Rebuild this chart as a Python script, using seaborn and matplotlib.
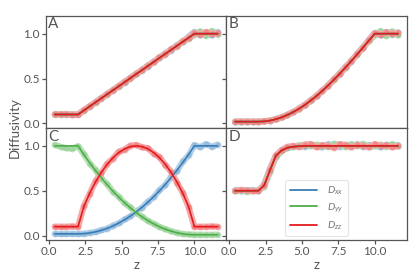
import numpy as np
import pandas as pd
import matplotlib
matplotlib.use("Agg")
import matplotlib.pyplot as plt
from matplotlib.lines import Line2D
import seaborn as sns

# ---------------- data ----------------
z = [0.4, 0.8, 1.2, 1.6, 2.0, 2.4, 2.8, 3.2, 3.6, 4.0, 4.4, 4.8, 5.2, 5.6, 6.0,
     6.4, 6.8, 7.2, 7.6, 8.0, 8.4, 8.8, 9.2, 9.6, 10.0, 10.4, 10.8, 11.2, 11.6]

components = ["D_xx", "D_yy", "D_zz"]
legend_labels = ["$D_{xx}$", "$D_{yy}$", "$D_{zz}$"]
panel_letters = ["A", "B", "C", "D"]
x_ticks = [0.0, 2.5, 5.0, 7.5, 10.0]
y_ticks = [0.0, 0.5, 1.0]

# Panel A (all components identical model)
A_line = [0.1, 0.1, 0.1, 0.1, 0.1, 0.145, 0.19, 0.235, 0.28, 0.325, 0.37, 0.415, 0.46, 0.505, 0.55,
          0.595, 0.64, 0.685, 0.73, 0.775, 0.82, 0.865, 0.91, 0.955, 1.0, 1.0, 1.0, 1.0, 1.0]
A_xx = [0.102, 0.099, 0.101, 0.098, 0.100, 0.147, 0.188, 0.238, 0.277, 0.329, 0.366, 0.419, 0.455, 0.511, 0.546,
        0.601, 0.633, 0.692, 0.724, 0.783, 0.812, 0.874, 0.902, 0.968, 1.02, 0.985, 1.01, 0.98, 1.02]
A_yy = [0.099, 0.101, 0.098, 0.102, 0.101, 0.143, 0.193, 0.232, 0.284, 0.321, 0.375, 0.411, 0.466, 0.499, 0.556,
        0.589, 0.648, 0.679, 0.738, 0.768, 0.829, 0.857, 0.921, 0.944, 0.99, 1.025, 0.975, 1.03, 0.99]
A_zz = [0.101, 0.100, 0.102, 0.099, 0.098, 0.146, 0.191, 0.236, 0.279, 0.327, 0.368, 0.417, 0.462, 0.503, 0.553,
        0.592, 0.644, 0.681, 0.735, 0.771, 0.826, 0.861, 0.915, 0.95, 1.01, 0.99, 1.02, 0.995, 1.005]

# Panel B
B_line = [0.02, 0.02, 0.02, 0.02, 0.02, 0.023, 0.032, 0.047, 0.068, 0.095, 0.127, 0.164, 0.207, 0.255, 0.307,
          0.364, 0.424, 0.488, 0.555, 0.625, 0.697, 0.771, 0.847, 0.923, 1.0, 1.0, 1.0, 1.0, 1.0]
B_xx = [0.021, 0.019, 0.020, 0.021, 0.019, 0.024, 0.031, 0.048, 0.067, 0.097, 0.125, 0.167, 0.204, 0.259, 0.303,
        0.369, 0.419, 0.494, 0.549, 0.632, 0.690, 0.779, 0.839, 0.931, 1.01, 0.98, 1.02, 0.99, 1.015]
B_yy = [0.019, 0.021, 0.020, 0.019, 0.021, 0.022, 0.033, 0.046, 0.069, 0.093, 0.129, 0.161, 0.210, 0.251, 0.312,
        0.359, 0.430, 0.482, 0.561, 0.618, 0.705, 0.763, 0.856, 0.914, 0.985, 1.03, 0.975, 1.025, 0.98]
B_zz = [0.020, 0.020, 0.021, 0.020, 0.019, 0.023, 0.032, 0.047, 0.068, 0.096, 0.126, 0.165, 0.206, 0.256, 0.305,
        0.366, 0.422, 0.490, 0.553, 0.628, 0.694, 0.775, 0.843, 0.927, 1.005, 0.99, 1.015, 1.0, 1.01]

# Panel C
C_xx_line = [0.02, 0.02, 0.02, 0.02, 0.02, 0.022, 0.030, 0.042, 0.059, 0.081, 0.108, 0.140, 0.177, 0.218, 0.265,
             0.316, 0.373, 0.434, 0.500, 0.571, 0.647, 0.728, 0.814, 0.904, 1.0, 1.0, 1.0, 1.0, 1.0]
C_yy_line = [1.0, 1.0, 1.0, 1.0, 1.0, 0.903, 0.812, 0.725, 0.644, 0.567, 0.495, 0.428, 0.366, 0.309, 0.258,
             0.210, 0.168, 0.131, 0.099, 0.072, 0.050, 0.032, 0.020, 0.012, 0.01, 0.01, 0.01, 0.01, 0.01]
C_zz_line = [0.1, 0.1, 0.1, 0.1, 0.1, 0.324, 0.473, 0.598, 0.704, 0.794, 0.868, 0.925, 0.967, 0.992, 1.0,
             0.992, 0.967, 0.925, 0.868, 0.794, 0.704, 0.598, 0.473, 0.324, 0.1, 0.1, 0.1, 0.1, 0.1]
C_xx = [0.021, 0.019, 0.020, 0.021, 0.020, 0.021, 0.031, 0.041, 0.061, 0.079, 0.111, 0.137, 0.181, 0.214, 0.270,
        0.311, 0.379, 0.428, 0.508, 0.563, 0.656, 0.719, 0.826, 0.893, 1.01, 0.985, 1.02, 0.99, 1.015]
C_yy = [1.01, 0.99, 0.975, 0.97, 0.995, 0.91, 0.803, 0.733, 0.637, 0.574, 0.489, 0.434, 0.361, 0.314, 0.254,
        0.213, 0.165, 0.133, 0.098, 0.073, 0.049, 0.033, 0.019, 0.013, 0.010, 0.011, 0.009, 0.010, 0.011]
C_zz = [0.101, 0.099, 0.100, 0.102, 0.099, 0.33, 0.465, 0.607, 0.695, 0.803, 0.859, 0.936, 0.958, 1.004, 1.01,
        0.985, 0.975, 0.915, 0.877, 0.785, 0.712, 0.590, 0.480, 0.318, 0.101, 0.099, 0.100, 0.102, 0.100]

# Panel D
D_line = [0.5, 0.5, 0.5, 0.5, 0.5, 0.56, 0.73, 0.89, 0.95, 0.98, 0.99, 0.997, 1.0, 1.0, 1.0,
          1.0, 1.0, 1.0, 1.0, 1.0, 1.0, 1.0, 1.0, 1.0, 1.0, 1.0, 1.0, 1.0, 1.0]
D_xx = [0.505, 0.495, 0.50, 0.51, 0.495, 0.575, 0.75, 0.88, 0.955, 0.975, 0.995, 1.0, 0.99, 1.01, 1.0,
        0.985, 1.02, 1.005, 0.99, 1.015, 0.995, 1.02, 0.99, 1.01, 1.005, 0.985, 1.015, 0.995, 1.01]
D_yy = [0.495, 0.505, 0.49, 0.50, 0.505, 0.545, 0.71, 0.875, 0.94, 0.985, 0.985, 1.005, 1.01, 0.995, 1.015,
        1.0, 0.99, 1.025, 1.01, 0.985, 1.02, 0.995, 1.025, 0.99, 0.995, 1.015, 0.99, 1.02, 0.995]
D_zz = [0.50, 0.51, 0.505, 0.495, 0.50, 0.56, 0.735, 0.895, 0.95, 0.99, 1.0, 0.99, 1.015, 1.02, 0.985,
        1.01, 1.0, 0.98, 1.02, 1.005, 0.985, 1.01, 1.0, 0.985, 1.02, 1.0, 1.005, 0.985, 1.0]

panels = [
    ([A_xx, A_yy, A_zz], [A_line, A_line, A_line]),
    ([B_xx, B_yy, B_zz], [B_line, B_line, B_line]),
    ([C_xx, C_yy, C_zz], [C_xx_line, C_yy_line, C_zz_line]),
    ([D_xx, D_yy, D_zz], [D_line, D_line, D_line]),
]

# ---------------- style ----------------
sns.set_theme(style="ticks")
plt.rcParams['font.family'] = ['Lato', 'DejaVu Sans']
plt.rcParams['mathtext.fontset'] = 'custom'
plt.rcParams['mathtext.it'] = 'Lato:italic'
plt.rcParams['mathtext.rm'] = 'Lato'
grey = '#555555'
plt.rcParams.update({
    'axes.edgecolor': grey, 'axes.labelcolor': grey, 'xtick.color': grey, 'ytick.color': grey,
    'text.color': grey, 'axes.linewidth': 0.9, 'xtick.major.width': 0.9, 'ytick.major.width': 0.9,
    'xtick.major.size': 3, 'ytick.major.size': 3,
})
colors = ['#377eb8', '#4daf4a', '#e41a1c']
pastel = ['#b5d0e8', '#b9e0b7', '#f5a9aa']

fig, axes = plt.subplots(2, 2, figsize=(4.15, 2.76), dpi=100, sharex=True, sharey=True)
fig.subplots_adjust(left=0.111, right=0.98, top=0.943, bottom=0.130, hspace=0, wspace=0)

for ax, letter, (noisy, lines) in zip(axes.flat, panel_letters, panels):
    for vals, c, pc in zip(noisy, colors, pastel):
        sns.lineplot(x=z, y=vals, ax=ax, color=pc, lw=4.5, legend=False, zorder=1)
        sns.lineplot(x=z, y=vals, ax=ax, color=c, lw=0, alpha=0.22, marker='o', markersize=4.5,
                     markeredgewidth=0, legend=False, zorder=1)
    for vals, c in zip(lines, colors):
        sns.lineplot(x=z, y=vals, ax=ax, color=c, lw=1.2, legend=False, zorder=3)
    ax.text(0.012, 0.985, letter, transform=ax.transAxes, ha='left', va='top', fontsize=11, color=grey)
    ax.set_xlim(-0.2, 12.2)
    ax.set_ylim(-0.05, 1.2)
    ax.set_xticks(x_ticks)
    ax.set_yticks(y_ticks)
    ax.tick_params(labelsize=8.5, pad=1.5)
    ax.set_xlabel('')
    ax.set_ylabel('')

for ax in axes[0]:
    ax.tick_params(axis='x', length=0)
for ax in axes[1]:
    ax.set_xlabel('z', fontsize=9.5, labelpad=1)

handles = [Line2D([0], [0], color=c, lw=1.3) for c in colors]
leg = axes[1, 1].legend(handles, legend_labels, loc='lower center', fontsize=7.5, frameon=True,
                        handlelength=2.6, borderpad=0.45, labelspacing=0.45, handletextpad=0.9,
                        borderaxespad=0.35)
leg.get_frame().set_edgecolor('#dddddd')
leg.get_frame().set_linewidth(0.8)
for t in leg.get_texts():
    t.set_color('#777777')

fig.text(0.035, 0.537, 'Diffusivity', rotation=90, ha='center', va='center', fontsize=9.5, color=grey)

fig.savefig('out.png', dpi=100)
